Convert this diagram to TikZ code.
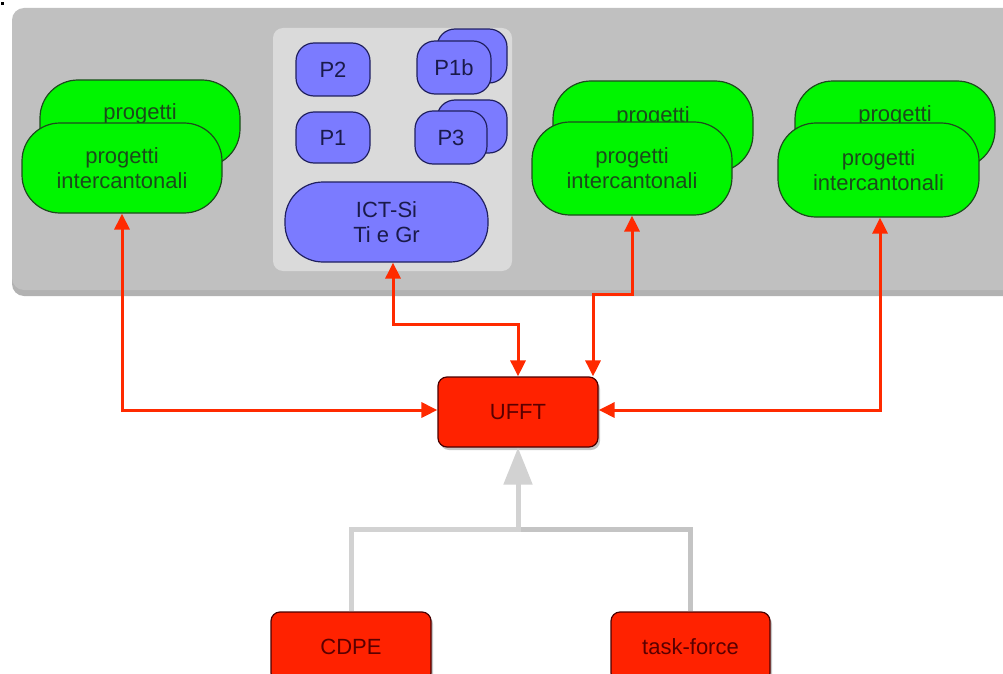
\documentclass[tikz,border=0pt]{standalone}
\usepackage{fontspec}
\setmainfont{Liberation Sans}
\usetikzlibrary{shapes.misc,arrows.meta,shadows,calc}
\definecolor{panelgray}{HTML}{C0C0C0}
\definecolor{innergray}{HTML}{DADADA}
\definecolor{gfill}{HTML}{00F500}
\definecolor{gdraw}{HTML}{1E4A1E}
\definecolor{gtext}{HTML}{1B4A1B}
\definecolor{bfill}{HTML}{7B7BFF}
\definecolor{bdraw}{HTML}{202060}
\definecolor{btext}{HTML}{1A1A4A}
\definecolor{rfill}{HTML}{FF2200}
\definecolor{rdraw}{HTML}{4A0000}
\definecolor{rtext}{HTML}{5A0000}
\definecolor{rline}{HTML}{FF2A00}
\definecolor{glight}{HTML}{D2D2D2}
\definecolor{gdark}{HTML}{C4C4C4}
\tikzset{
  txt/.style={font=\fontsize{22}{25}\selectfont, align=center},
  gbox/.style={txt, draw=gdraw, fill=gfill, text=gtext, line width=1.2pt, rounded corners=38pt, minimum width=200pt, minimum height=90pt, inner sep=0pt},
  bbox/.style={txt, draw=bdraw, fill=bfill, text=btext, line width=1.2pt, rounded corners=18pt, minimum width=74pt, minimum height=52pt, inner sep=0pt},
  rbox/.style={txt, draw=rdraw, fill=rfill, text=rtext, line width=1.2pt, rounded corners=9pt, minimum width=160pt, minimum height=70pt, inner sep=0pt, drop shadow={shadow xshift=2pt, shadow yshift=-3pt, opacity=0.45}},
  redarr/.style={draw=rline, line width=3pt, {Triangle[length=16pt,width=15pt]}-{Triangle[length=16pt,width=15pt]}},
  grayln/.style={line width=5pt},
}
\begin{document}
\begin{tikzpicture}[x=1pt,y=-1pt]
\useasboundingbox (0,0) rectangle (1003,674);
\clip (0,0) rectangle (1003,674);
\fill[white] (0,0) rectangle (1003,674);
\fill[black] (1,2) rectangle (4,5);
% panels
\path[fill=panelgray, rounded corners=12pt, drop shadow={shadow xshift=0pt, shadow yshift=-6pt, opacity=0.6}] (12,8) rectangle (1030,290);
\path[fill=innergray, rounded corners=10pt] (273,28) rectangle (512,271);
% green stacks
\node[gbox, minimum height=87pt] (gLb) at (140,123.5) {\raisebox{3.5pt}[0pt][0pt]{progetti}};
\node[gbox] (gL) at (122,168) {progetti\\intercantonali};
\node[gbox, minimum height=91pt] (gMb) at (653,126.5) {\raisebox{4.5pt}[0pt][0pt]{progetti}};
\node[gbox, minimum height=93pt] (gM) at (632,168.5) {progetti\\intercantonali};
\node[gbox, minimum height=87pt] (gRb) at (895,124.5) {\raisebox{2.5pt}[0pt][0pt]{progetti}};
\node[gbox, minimum height=94pt, minimum width=201pt] (gR) at (878.5,170) {progetti\\intercantonali};
% blue
\node[bbox, minimum height=53pt] (p2) at (333,69.5) {P2};
\node[bbox, minimum height=51pt] (p1) at (333,137.5) {P1};
\node[bbox, minimum width=70pt, minimum height=54pt] (p1bb) at (472,56) {};
\node[bbox, minimum height=53pt] (p1b) at (454,67.5) {P1b};
\node[bbox, minimum width=70pt, minimum height=53pt] (p3b) at (472,126.5) {};
\node[bbox, minimum width=72pt, minimum height=53pt] (p3) at (451,137.5) {P3};
\node[bbox, minimum width=203pt, minimum height=80pt, rounded corners=38pt] (ict) at (386.5,222) {ICT-Si\\Ti e Gr};
% red boxes
\node[rbox] (ufft) at (518,412) {UFFT};
\node[rbox] (cdpe) at (351,647) {CDPE};
\node[rbox, minimum width=159pt] (tf) at (690.5,647) {task-force};
% gray connectors
\draw[grayln, glight] (cdpe.north) -- (cdpe.north |- 0,529) -- (ufft.south |- 0,529);
\draw[grayln, gdark] (tf.north) -- (tf.north |- 0,529) -- (ufft.south |- 0,529);
\draw[grayln, glight, -{Triangle[length=37pt,width=28pt]}] (ufft.south |- 0,531.5) -- (ufft.south);
% red connectors
\draw[redarr] (gL.south) |- ([yshift=2pt]ufft.west);
\draw[redarr] ([xshift=6.5pt]ict.south) -- ([xshift=6.5pt]ict.south |- 0,324) -| (ufft.north);
\draw[redarr] (gM.south) -- (gM.south |- 0,294) -| ([xshift=75pt]ufft.north);
\draw[redarr] ([xshift=1.5pt]gR.south) |- ([yshift=2pt]ufft.east);
\end{tikzpicture}
\end{document}
